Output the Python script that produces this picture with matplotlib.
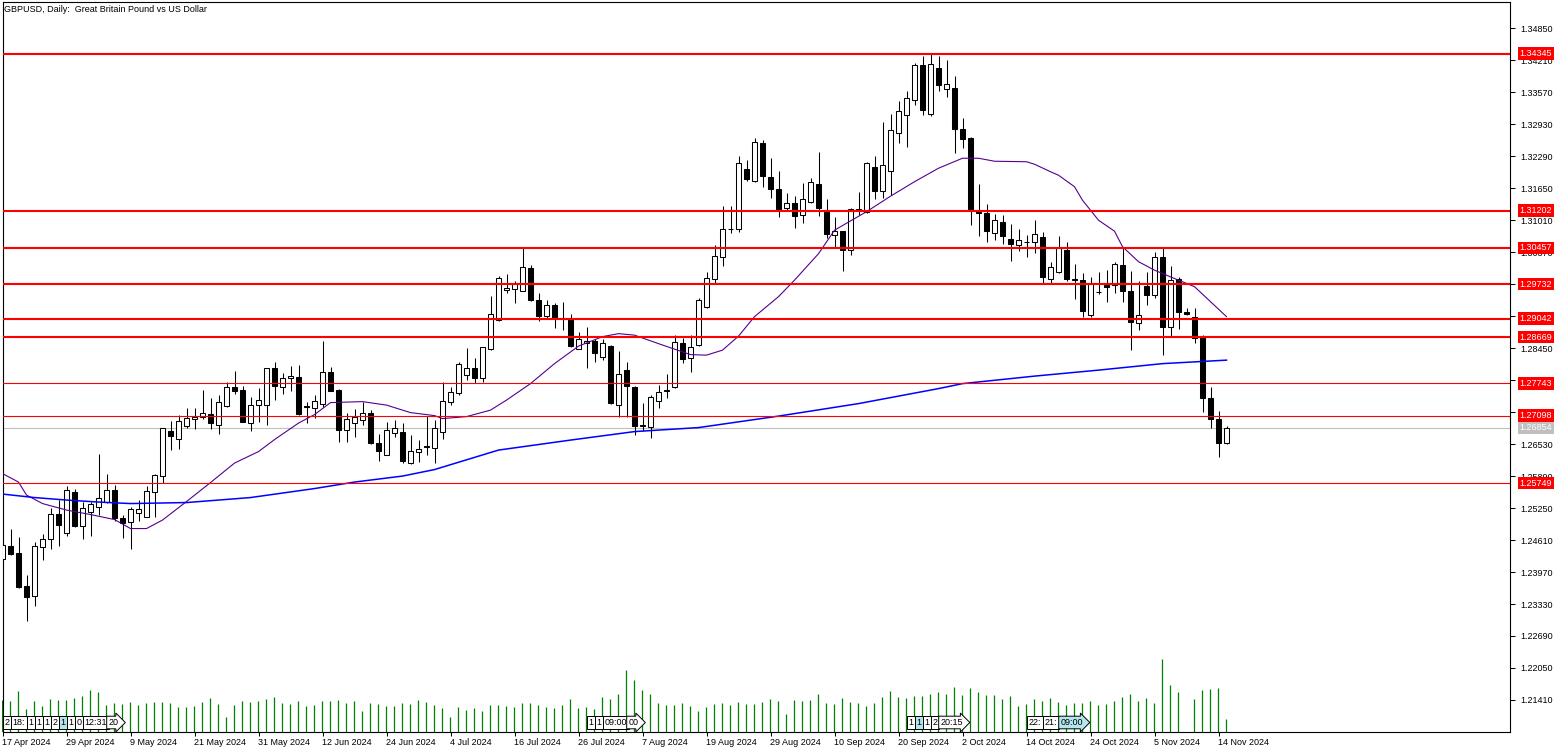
import matplotlib
matplotlib.use('Agg')
import matplotlib.pyplot as plt
import matplotlib.transforms as mtransforms
import numpy as np

plt.rcParams['font.family'] = ['Liberation Sans', 'DejaVu Sans']

# daily GBPUSD bars, 17 Apr 2024 .. 15 Nov 2024 (bar 148 is a short Sunday bar)
opens = [1.2424, 1.2449, 1.2435, 1.2369, 1.2349, 1.2447, 1.2463, 1.2513, 1.2475, 1.2557,
         1.2490, 1.2518, 1.2528, 1.2537, 1.2562, 1.2505, 1.2497, 1.2515, 1.2508, 1.2557,
         1.2590, 1.2680, 1.2663, 1.2689, 1.2703, 1.2708, 1.2713, 1.2691, 1.2729, 1.2767,
         1.2761, 1.2695, 1.2731, 1.2732, 1.2805, 1.2767, 1.2785, 1.2787, 1.2730, 1.2725,
         1.2734, 1.2797, 1.2762, 1.2681, 1.2695, 1.2701, 1.2715, 1.2655, 1.2632, 1.2676,
         1.2678, 1.2616, 1.2637, 1.2649, 1.2645, 1.2677, 1.2738, 1.2756, 1.2792, 1.2806,
         1.2785, 1.2843, 1.2901, 1.2961, 1.2964, 1.2960, 1.3005, 1.2941, 1.2910, 1.2931,
         1.2905, 1.2903, 1.2843, 1.2855, 1.2860, 1.2828, 1.2849, 1.2732, 1.2802, 1.2768,
         1.2690, 1.2687, 1.2740, 1.2759, 1.2767, 1.2855, 1.2825, 1.2851, 1.2928, 1.2983,
         1.3027, 1.3083, 1.3083, 1.3203, 1.3180, 1.3255, 1.3187, 1.3163, 1.3125, 1.3135,
         1.3111, 1.3138, 1.3173, 1.3118, 1.3071, 1.3079, 1.3042, 1.3121, 1.3118, 1.3208,
         1.3160, 1.3200, 1.3275, 1.3312, 1.3341, 1.3412, 1.3314, 1.3406, 1.3363, 1.3365,
         1.3283, 1.3265, 1.3118, 1.3115, 1.3075, 1.3098, 1.3063, 1.3051, 1.3058, 1.3057,
         1.3067, 1.2983, 1.2997, 1.3041, 1.2983, 1.2981, 1.2912, 1.2958, 1.2971, 1.2971,
         1.3012, 1.2960, 1.2896, 1.2969, 1.2952, 1.3027, 1.2887, 1.2983, 1.2918, 1.2907,
         1.2868, 1.2745, 1.2703, 1.2656]
highs = [1.2456, 1.2483, 1.2467, 1.2391, 1.2457, 1.2474, 1.2525, 1.2542, 1.2570, 1.2564,
         1.2537, 1.2538, 1.2634, 1.2594, 1.2572, 1.2511, 1.2527, 1.2542, 1.2569, 1.2594,
         1.2686, 1.2700, 1.2711, 1.2726, 1.2726, 1.2762, 1.2746, 1.2751, 1.2778, 1.2800,
         1.2770, 1.2747, 1.2766, 1.2806, 1.2818, 1.2796, 1.2809, 1.2811, 1.2737, 1.2752,
         1.2860, 1.2808, 1.2764, 1.2716, 1.2723, 1.2738, 1.2722, 1.2674, 1.2697, 1.2702,
         1.2695, 1.2672, 1.2661, 1.2710, 1.2702, 1.2778, 1.2768, 1.2818, 1.2845, 1.2826,
         1.2847, 1.2950, 1.2990, 1.2994, 1.2979, 1.3045, 1.3012, 1.2955, 1.2941, 1.2935,
         1.2937, 1.2914, 1.2877, 1.2887, 1.2864, 1.2863, 1.2851, 1.2839, 1.2818, 1.2769,
         1.2736, 1.2752, 1.2771, 1.2793, 1.2872, 1.2865, 1.2871, 1.2945, 1.2997, 1.3052,
         1.3130, 1.3130, 1.3229, 1.3222, 1.3266, 1.3262, 1.3225, 1.3200, 1.3155, 1.3149,
         1.3175, 1.3185, 1.3237, 1.3143, 1.3108, 1.3080, 1.3125, 1.3158, 1.3218, 1.3229,
         1.3298, 1.3313, 1.3340, 1.3360, 1.3415, 1.3430, 1.3433, 1.3430, 1.3421, 1.3389,
         1.3305, 1.3268, 1.3174, 1.3133, 1.3114, 1.3112, 1.3094, 1.3083, 1.3072, 1.3102,
         1.3077, 1.3018, 1.3069, 1.3058, 1.3014, 1.2995, 1.2987, 1.2998, 1.3001, 1.3018,
         1.3048, 1.3000, 1.2980, 1.2998, 1.3038, 1.3045, 1.3010, 1.2988, 1.2926, 1.2925,
         1.2871, 1.2767, 1.2720, 1.2690]
lows = [1.2420, 1.2431, 1.2366, 1.2298, 1.2330, 1.2422, 1.2444, 1.2449, 1.2470, 1.2488,
        1.2464, 1.2470, 1.2512, 1.2535, 1.2500, 1.2466, 1.2444, 1.2500, 1.2508, 1.2508,
        1.2576, 1.2642, 1.2644, 1.2686, 1.2684, 1.2704, 1.2684, 1.2674, 1.2728, 1.2753,
        1.2697, 1.2680, 1.2698, 1.2692, 1.2742, 1.2754, 1.2759, 1.2711, 1.2695, 1.2705,
        1.2728, 1.2760, 1.2657, 1.2658, 1.2668, 1.2691, 1.2654, 1.2620, 1.2632, 1.2668,
        1.2616, 1.2613, 1.2618, 1.2632, 1.2615, 1.2663, 1.2732, 1.2752, 1.2782, 1.2776,
        1.2778, 1.2841, 1.2900, 1.2955, 1.2936, 1.2960, 1.2939, 1.2900, 1.2905, 1.2886,
        1.2881, 1.2848, 1.2843, 1.2806, 1.2818, 1.2821, 1.2733, 1.2707, 1.2708, 1.2671,
        1.2680, 1.2665, 1.2725, 1.2746, 1.2766, 1.2815, 1.2798, 1.2850, 1.2925, 1.2976,
        1.3009, 1.3075, 1.3078, 1.3180, 1.3178, 1.3167, 1.3145, 1.3108, 1.3122, 1.3086,
        1.3096, 1.3135, 1.3110, 1.3066, 1.3047, 1.3000, 1.3032, 1.3112, 1.3115, 1.3144,
        1.3145, 1.3152, 1.3256, 1.3247, 1.3332, 1.3312, 1.3310, 1.3360, 1.3348, 1.3236,
        1.3245, 1.3092, 1.3070, 1.3058, 1.3062, 1.3054, 1.3020, 1.3040, 1.3028, 1.3035,
        1.2976, 1.2976, 1.2996, 1.2980, 1.2943, 1.2907, 1.2908, 1.2953, 1.2938, 1.2955,
        1.2938, 1.2841, 1.2882, 1.2932, 1.2945, 1.2832, 1.2870, 1.2883, 1.2911, 1.2855,
        1.2718, 1.2685, 1.2628, 1.2653]
closes = [1.2452, 1.2434, 1.2367, 1.2348, 1.2449, 1.2463, 1.2513, 1.2491, 1.2561, 1.2490,
          1.2525, 1.2534, 1.2545, 1.2561, 1.2506, 1.2496, 1.2523, 1.2523, 1.2559, 1.2592,
          1.2685, 1.2669, 1.2699, 1.2706, 1.2708, 1.2715, 1.2696, 1.2737, 1.2767, 1.2760,
          1.2698, 1.2731, 1.2741, 1.2805, 1.2769, 1.2785, 1.2789, 1.2714, 1.2727, 1.2739,
          1.2797, 1.2760, 1.2682, 1.2703, 1.2708, 1.2715, 1.2656, 1.2640, 1.2681, 1.2685,
          1.2620, 1.2640, 1.2643, 1.2648, 1.2685, 1.2739, 1.2757, 1.2813, 1.2806, 1.2785,
          1.2847, 1.2913, 1.2985, 1.2965, 1.2973, 1.3007, 1.2942, 1.2909, 1.2931, 1.2906,
          1.2904, 1.2849, 1.2863, 1.2859, 1.2835, 1.2855, 1.2735, 1.2793, 1.2770, 1.2690,
          1.2691, 1.2747, 1.2757, 1.2761, 1.2857, 1.2823, 1.2847, 1.2942, 1.2985, 1.3030,
          1.3083, 1.3084, 1.3215, 1.3183, 1.3257, 1.3190, 1.3163, 1.3122, 1.3136, 1.3110,
          1.3143, 1.3177, 1.3125, 1.3073, 1.3079, 1.3041, 1.3123, 1.3123, 1.3215, 1.3160,
          1.3211, 1.3282, 1.3320, 1.3345, 1.3412, 1.3322, 1.3413, 1.3372, 1.3374, 1.3283,
          1.3264, 1.3122, 1.3115, 1.3080, 1.3102, 1.3070, 1.3053, 1.3062, 1.3057, 1.3074,
          1.2988, 1.3008, 1.3045, 1.2983, 1.2982, 1.2920, 1.2974, 1.2957, 1.2968, 1.3014,
          1.2960, 1.2898, 1.2911, 1.2952, 1.3027, 1.2887, 1.2982, 1.2918, 1.2913, 1.2866,
          1.2745, 1.2703, 1.2656, 1.2685]
volumes = [97000, 94000, 124000, 70000, 94000, 79000, 100000, 97000, 97000, 103000,
           109000, 127000, 121000, 82000, 88000, 85000, 91000, 82000, 88000, 91000,
           91000, 88000, 76000, 76000, 79000, 91000, 103000, 85000, 46000, 82000,
           94000, 91000, 94000, 100000, 106000, 88000, 85000, 94000, 79000, 82000,
           94000, 94000, 97000, 88000, 94000, 64000, 88000, 85000, 79000, 79000,
           88000, 85000, 97000, 91000, 82000, 73000, 46000, 76000, 67000, 73000,
           64000, 82000, 82000, 79000, 76000, 88000, 88000, 82000, 76000, 73000,
           82000, 100000, 73000, 76000, 70000, 106000, 100000, 115000, 187000, 157000,
           127000, 115000, 88000, 82000, 82000, 88000, 79000, 64000, 76000, 85000,
           88000, 82000, 91000, 85000, 85000, 91000, 100000, 94000, 55000, 97000,
           94000, 97000, 115000, 88000, 85000, 103000, 91000, 88000, 79000, 88000,
           106000, 124000, 106000, 103000, 109000, 109000, 115000, 121000, 115000, 136000,
           112000, 133000, 121000, 112000, 112000, 100000, 109000, 79000, 85000, 100000,
           94000, 103000, 91000, 82000, 88000, 88000, 94000, 82000, 85000, 94000,
           106000, 115000, 94000, 103000, 88000, 220000, 142000, 121000, 1000, 100000,
           127000, 130000, 133000, 40000]

# moving averages (bar index, price)
ma_fast_bars = [0, 2, 3, 5, 8, 11, 14, 16, 18, 20, 23, 26, 29, 32, 34, 37, 39, 41, 45, 48,
                51, 54, 55, 58, 61, 63, 66, 69, 72, 75, 77, 79, 82, 86, 88, 90, 92, 94, 97, 99,
                102, 104, 108, 111, 114, 117, 120, 122, 124, 128, 129, 131, 132, 134, 135, 137,
                139, 140, 142, 144, 147, 149, 151, 153]
ma_fast = [1.2594, 1.2577, 1.2551, 1.2534, 1.2521, 1.2512, 1.2502, 1.2484, 1.2484, 1.2501,
           1.2538, 1.2576, 1.2615, 1.2638, 1.2662, 1.2695, 1.2712, 1.2736, 1.2738, 1.2731,
           1.2716, 1.2710, 1.2704, 1.2708, 1.2721, 1.2741, 1.2774, 1.2814, 1.2849, 1.2868,
           1.2874, 1.2871, 1.2854, 1.2832, 1.2831, 1.2841, 1.2869, 1.2908, 1.2948, 1.2981,
           1.3034, 1.3081, 1.3118, 1.3149, 1.3178, 1.3205, 1.3225, 1.3225, 1.3219, 1.3218,
           1.3213, 1.3198, 1.3191, 1.3168, 1.3141, 1.3101, 1.3079, 1.3048, 1.3018, 1.3001,
           1.2981, 1.2968, 1.2938, 1.2908]
ma_slow_bars = [0, 4, 8, 12, 16, 23, 27, 31, 39, 44, 50, 54, 62, 71, 79, 87, 97, 107, 117,
                120, 129, 137, 145, 153]
ma_slow = [1.2553, 1.2546, 1.2541, 1.2537, 1.2534, 1.2536, 1.2541, 1.2546, 1.2564, 1.2577,
           1.2589, 1.2602, 1.2641, 1.2661, 1.2678, 1.2686, 1.2709, 1.2734, 1.2764, 1.2774,
           1.2789, 1.2801, 1.2814, 1.2821]

levels_major = [1.34345, 1.31202, 1.30457, 1.29732, 1.29042, 1.28669]
levels_minor = [1.27743, 1.27098, 1.25749]
last_price = 1.26854

date_bars = list(range(0, 153, 8))
date_labels = ['17 Apr 2024', '29 Apr 2024', '9 May 2024', '21 May 2024', '31 May 2024',
               '12 Jun 2024', '24 Jun 2024', '4 Jul 2024', '16 Jul 2024', '26 Jul 2024',
               '7 Aug 2024', '19 Aug 2024', '29 Aug 2024', '10 Sep 2024', '20 Sep 2024',
               '2 Oct 2024', '14 Oct 2024', '24 Oct 2024', '5 Nov 2024', '14 Nov 2024']

price_ticks = [1.21410 + 0.0064 * k for k in range(22)]

# calendar event markers: (bar, text, kind) kind 0 plain, 1 highlighted, 2 arrow, 3 highlighted arrow
events = [(0, '2', 0), (1, '18:', 0), (3, '1', 0), (4, '1', 0), (5, '1', 0), (6, '2', 0),
          (7, '1', 1), (8, '1', 0), (9, '0', 0), (10, '12:31', 0), (13, '20', 2),
          (73, '1', 0), (74, '1', 0), (75, '09:00', 0), (78, '00', 2),
          (113, '1', 0), (114, '1', 1), (115, '1', 0), (116, '2', 0), (117, '20:15', 2),
          (128, '22:', 0), (130, '21:', 0), (132, '09:00', 3)]

W, H = 1568, 753
fig = plt.figure(figsize=(W / 100, H / 100), dpi=100)
fig.patch.set_facecolor('white')
ax = fig.add_axes([2.5 / W, 1 - 732 / H, (1510 - 2.5) / W, (732 - 1.5) / H])
ax.set_facecolor('white')
FS = 6.5

x = np.arange(len(opens))
o = np.array(opens)
c = np.array(closes)
up = c >= o
bottom = np.minimum(o, c)
height = np.maximum(np.abs(c - o), 0.00003)

# volume in the bottom of the main window
vax = ax.twinx()
vax.set_ylim(0, 730.5 * 3000)
vax.vlines(x, 0, volumes, color='#008000', lw=0.9)
vax.axis('off')
for b, txt, kind in events:
    fc = '#b4e6ee' if kind in (1, 3) else 'white'
    style = 'rarrow,pad=0.2' if kind in (2, 3) else 'square,pad=0.2'
    vax.text(b + 0.25, 0.013, txt, transform=mtransforms.blended_transform_factory(vax.transData, vax.transAxes),
             fontsize=FS, va='center', ha='left', zorder=5,
             bbox=dict(boxstyle=style, fc=fc, ec='black', lw=0.7))

ax.set_zorder(vax.get_zorder() + 1)
ax.patch.set_visible(False)

ax.vlines(x, lows, highs, color='black', lw=0.75, zorder=3)
ax.bar(x[up], height[up], bottom=bottom[up], width=0.6, facecolor='white',
       edgecolor='black', linewidth=0.75, zorder=4)
ax.bar(x[~up], height[~up], bottom=bottom[~up], width=0.6, facecolor='black',
       edgecolor='black', linewidth=0.75, zorder=4)

ax.plot(ma_fast_bars, ma_fast, color='#55008f', lw=0.8, zorder=6)
ax.plot(ma_slow_bars, ma_slow, color='#0000ff', lw=1.1, zorder=6)

for lv in levels_major:
    ax.axhline(lv, color='#ff0000', lw=1.5, zorder=7)
for lv in levels_minor:
    ax.axhline(lv, color='#ff0000', lw=0.8, zorder=7)
ax.axhline(last_price, color='#c0c0c0', lw=0.8, zorder=2)

ax.set_xlim(0, (1510 - 2.5) / 8)
ax.set_ylim(1.207688, 1.353863)

ax.set_xticks(date_bars)
ax.set_xticklabels(date_labels, ha='left')
ax.tick_params(axis='x', length=2.7, width=0.75, pad=1.5, labelsize=FS, direction='out')
ax.yaxis.tick_right()
ax.set_yticks(price_ticks)
ax.set_yticklabels([f'{p:.5f}' for p in price_ticks])
ax.tick_params(axis='y', length=3.6, width=0.75, pad=3.5, labelsize=FS, direction='out')
for sp in ax.spines.values():
    sp.set_linewidth(0.8)
    sp.set_color('black')

tr = mtransforms.blended_transform_factory(ax.transAxes, ax.transData)
xl = (1519.5 - 2.5) / (1510 - 2.5)
for lv in levels_major + levels_minor:
    ax.text(xl, lv, f'{lv:.5f}', transform=tr, color='white', fontsize=FS, va='center', ha='left',
            clip_on=False, zorder=10, bbox=dict(boxstyle='square,pad=0.2', fc='#ff0000', ec='none'))
ax.text(xl, last_price, f'{last_price:.5f}', transform=tr, color='white', fontsize=FS, va='center',
        ha='left', clip_on=False, zorder=10, bbox=dict(boxstyle='square,pad=0.2', fc='#c0c0c0', ec='none'))

fig.text(4.5 / W, 1 - 9 / H, 'GBPUSD, Daily:  Great Britain Pound vs US Dollar', fontsize=FS,
         va='center', ha='left')

fig.savefig('out.png', dpi=100)
